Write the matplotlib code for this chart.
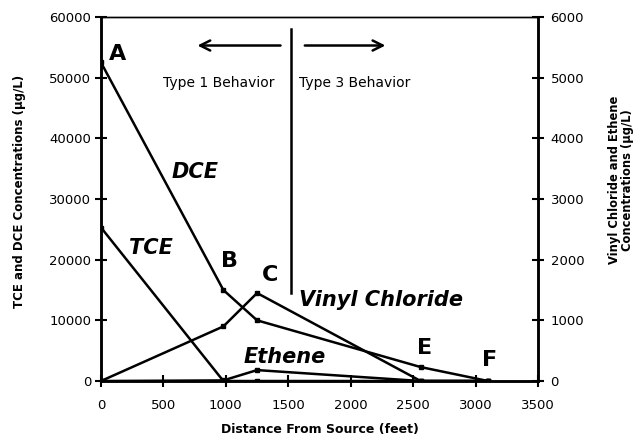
import matplotlib
matplotlib.use("Agg")
import matplotlib.pyplot as plt

plt.rcParams['font.family'] = ['DejaVu Sans']

# sampling locations (feet from source)
distance = [0, 980, 1250, 2560, 3100]

# left axis (ug/L)
tce = [25300, 0, 0, 0, 0]
dce = [52500, 15000, 10000, 2300, 0]

# right axis (ug/L)
vinyl_chloride = [0, 900, 1450, 0, 0]
ethene = [0, 10, 180, 0, 0]

point_labels = ['A', 'B', 'C', 'E', 'F']
point_label_xy = [(60, 53900), (1030, 19700), (1350, 17500), (2590, 5400), (3115, 3400)]

fig = plt.figure(figsize=(6.38, 4.38), dpi=100)
ax1 = fig.add_axes([0.1583, 0.1301, 0.685, 0.8311])
ax2 = ax1.twinx()

lw = 1.8
ax1.plot(distance, dce, color='black', lw=lw, marker='s', ms=3.5)
ax1.plot(distance, tce, color='black', lw=lw, marker='s', ms=3)
ax2.plot(distance, vinyl_chloride, color='black', lw=lw, marker='s', ms=2.5)
ax2.plot(distance, ethene, color='black', lw=lw, marker='s', ms=3.5)

ax1.set_xlim(0, 3500)
ax1.set_ylim(0, 60000)
ax2.set_ylim(0, 6000)
ax1.set_xticks(range(0, 3501, 500))
ax1.set_yticks(range(0, 60001, 10000))
ax2.set_yticks(range(0, 6001, 1000))

for ax in (ax1, ax2):
    for side in ('left', 'right', 'bottom'):
        ax.spines[side].set_linewidth(1.8)
    ax.spines['top'].set_linewidth(1.0)
    ax.tick_params(direction='inout', length=8, width=1.5, labelsize=9.5)
ax1.tick_params(axis='x', pad=9)
ax1.tick_params(axis='y', pad=3)
ax2.tick_params(axis='y', pad=5)

ax1.set_xlabel('Distance From Source (feet)', fontsize=9, fontweight='bold', labelpad=8)
fig.text(19.5 / 638, 1 - 191 / 438, 'TCE and DCE Concentrations (µg/L)', fontsize=8.5,
         fontweight='bold', rotation=90, ha='center', va='center')
fig.text(621 / 638, 1 - 180 / 438, 'Vinyl Chloride and Ethene\nConcentrations (µg/L)',
         fontsize=8.3, fontweight='bold', rotation=90, ha='center', va='center',
         multialignment='center', linespacing=1.0)

# behaviour divider and arrows
ax1.plot([1525, 1525], [58000, 14500], color='black', lw=1.8)
ax1.annotate('', xy=(750, 55300), xytext=(1460, 55300),
             arrowprops=dict(arrowstyle='->', lw=1.8, color='black', mutation_scale=18))
ax1.annotate('', xy=(2300, 55300), xytext=(1610, 55300),
             arrowprops=dict(arrowstyle='->', lw=1.8, color='black', mutation_scale=18))
ax1.text(945, 49100, 'Type 1 Behavior', fontsize=10, ha='center', va='center')
ax1.text(1585, 49100, 'Type 3 Behavior', fontsize=10, ha='left', va='center')

# series names
italic = dict(fontsize=15, fontweight='bold', style='italic', ha='center', va='center')
ax1.text(750, 34400, 'DCE', **italic)
ax1.text(400, 21900, 'TCE', **italic)
ax1.text(2240, 13300, 'Vinyl Chloride', **italic)
ax1.text(1470, 4000, 'Ethene', **italic)

for lab, (x, y) in zip(point_labels, point_label_xy):
    ha = 'left' if lab == 'A' else 'center'
    ax1.text(x, y, lab, fontsize=16, fontweight='bold', ha=ha, va='center')

fig.savefig('out.png', dpi=100)
